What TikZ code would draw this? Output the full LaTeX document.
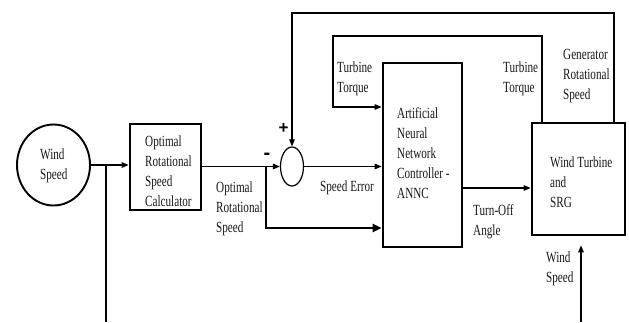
\documentclass[tikz,border=0pt]{standalone}
\usepackage{fontspec}
\setmainfont{Liberation Serif}[FakeStretch=0.72]
\newfontfamily\signfont{Liberation Sans}
\usetikzlibrary{arrows.meta,shapes.geometric,calc}
\newcommand{\mylines}[1]{\begin{tabular}[t]{@{}l@{}}#1\end{tabular}}
\begin{document}
\begin{tikzpicture}[x=1pt,y=-1pt,
  lbl/.style={anchor=base west,inner sep=0pt,font=\fontsize{15.5}{20}\selectfont,text=black!90},
  sign/.style={inner sep=0pt,font=\signfont\bfseries\fontsize{17}{17}\selectfont},
  blk/.style={draw,line width=2.7pt,inner sep=0pt},
  ln/.style={line width=1.4pt},
  arr/.style={line width=1.4pt,-{Triangle[length=7pt,width=5.5pt]}},
  thk/.style={line width=2.6pt,-{Triangle[length=9pt,width=8pt]}}
]
\fill[white] (0,0) rectangle (629,322);
\useasboundingbox (0,0) rectangle (629,322);

% blocks
\node[draw,ellipse,line width=1.9pt,minimum width=73pt,minimum height=81pt,inner sep=0pt] (ws) at (53.5,165) {};
\node[blk,minimum width=71pt,minimum height=86pt] (orc) at (165.5,167) {};
\node[draw,ellipse,line width=1.2pt,minimum width=23pt,minimum height=39pt,inner sep=0pt] (sum) at (292,166.5) {};
\node[blk,minimum width=79pt,minimum height=184pt] (annc) at (422.5,155) {};
\node[blk,minimum width=93pt,minimum height=112pt] (wt) at (578.5,179) {};

% coordinates
\coordinate (tap) at (106,165);
\coordinate (tapend) at (106,322);
\coordinate (br) at (266,166.5);
\coordinate (ttc) at (333,36);
\coordinate (fbc) at (614,13);
\coordinate (wsb) at (581,322);

% connectors
\draw[arr] (ws.east) -- (ws.east -| orc.west);
\draw[ln] (tap) -- (tapend);
\draw[arr] (sum.west -| orc.east) -- (sum.west);
\draw[thk] (br) |- (annc.west |- 0,228);
\draw[arr] (sum.east) -- (sum.east -| annc.west);
\draw[arr] (annc.east |- 0,188) -- (wt.west |- 0,188);
\draw[arr] (wt.north -| 542,0) |- (ttc) |- (annc.west |- 0,107);
\draw[arr] (wt.north -| fbc) -- (fbc) -| (sum.north);
\draw[arr] (wsb) -- ($(wt.south -| wsb)+(0,9)$);

% signs
\node[sign] (plus) at (283.5,128.5) {+};
\node[sign,font=\signfont\bfseries\fontsize{20}{20}\selectfont] (minus) at (267,156) {-};

% labels
\node[lbl] (wstxt) at (40,159) {\mylines{Wind\\Speed}};
\node[lbl] (orctxt) at (145,146) {\mylines{Optimal\\Rotational\\Speed\\Calculator}};
\node[lbl] (ors) at (216,192) {\mylines{Optimal\\Rotational\\Speed}};
\node[lbl] (se) at (320,191) {Speed Error};
\node[lbl] (tt1) at (337,72) {\mylines{Turbine\\Torque}};
\node[lbl] (annctxt) at (397,118) {\mylines{Artificial\\Neural\\Network\\Controller -\\ANNC}};
\node[lbl] (tt2) at (503,72) {\mylines{Turbine\\Torque}};
\node[lbl] (grs) at (563,59) {\mylines{Generator\\Rotational\\Speed}};
\node[lbl] (wttxt) at (550,167) {\mylines{Wind Turbine\\and\\SRG}};
\node[lbl] (toa) at (473,215) {\mylines{Turn-Off\\Angle}};
\node[lbl] (wsb2) at (546,262) {\mylines{Wind\\Speed}};
\end{tikzpicture}
\end{document}
